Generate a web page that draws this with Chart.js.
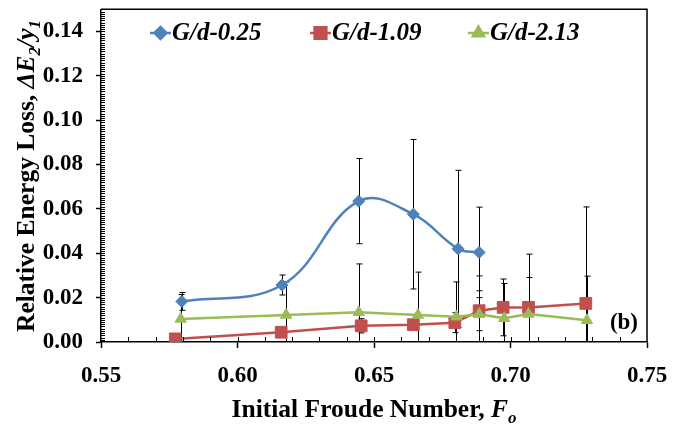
<!DOCTYPE html>
<html>
<head>
<meta charset="utf-8">
<script src="https://cdn.jsdelivr.net/npm/chart.js@4.4.1/dist/chart.umd.min.js"></script>
<style>
  html, body { margin: 0; padding: 0; background: #fff; }
  canvas { display: block; }
</style>
</head>
<body>
<canvas id="chart" width="688" height="426"></canvas>
<script>
// series labels
let seriesLabels = ['G/d-0.25', 'G/d-1.09', 'G/d-2.13'];

// G/d = 0.25
let froude025 = [0.5796, 0.6163, 0.6444, 0.6644, 0.6808, 0.6885];
let loss025   = [0.0183, 0.0257, 0.0635, 0.0576, 0.0420, 0.0404];
let err025    = [0.0040, 0.0045, 0.0192, 0.0337, 0.0354, 0.0204];

// G/d = 1.09
let froude109 = [0.5772, 0.6160, 0.6453, 0.6644, 0.6796, 0.6885, 0.6973, 0.7066, 0.7276];
let loss109   = [0.0014, 0.0044, 0.0073, 0.0078, 0.0087, 0.0141, 0.0156, 0.0156, 0.0174];
let err109    = [0.0010, 0.0010, 0.0032, 0.0020, 0.0045, 0.0090, 0.0128, 0.0240, 0.0435];

// G/d = 2.13
let froude213 = [0.5792, 0.6178, 0.6444, 0.6661, 0.6802, 0.6885, 0.6977, 0.7066, 0.7280];
let loss213   = [0.0104, 0.0122, 0.0134, 0.0122, 0.0114, 0.0125, 0.0107, 0.0126, 0.0098];
let err213    = [0.0110, 0.0149, 0.0218, 0.0193, 0.0157, 0.0173, 0.0157, 0.0165, 0.0199];

let errs = [err025, err109, err213];

// axis ticks
let xTicks = [0.55, 0.60, 0.65, 0.70, 0.75];
let yTicks = [0.00, 0.02, 0.04, 0.06, 0.08, 0.10, 0.12, 0.14];
let xMinorStep = 0.01;
let yMinorStep = 0.001;

const serif = '"Liberation Serif", "Times New Roman", serif';
const blue = '#4F81BD', red = '#C0504D', green = '#9BBB59';

function pts(xs, ys) { return xs.map((x, i) => ({ x: x, y: ys[i] })); }

function drawRich(c, parts, cx, baseY) {
  let total = 0;
  parts.forEach(p => { c.font = p.f; p.w = c.measureText(p.t).width; total += p.w; });
  let x = cx - total / 2;
  c.textAlign = 'left';
  c.textBaseline = 'alphabetic';
  parts.forEach(p => { c.font = p.f; c.fillText(p.t, x, baseY + (p.dy || 0)); x += p.w; });
}

// error bars, drawn under the series
const errorBars = {
  id: 'errorBars',
  beforeDatasetsDraw(chart) {
    let c = chart.ctx, xs = chart.scales.x, ys = chart.scales.y, a = chart.chartArea;
    c.save();
    c.beginPath();
    c.rect(a.left, a.top, a.right - a.left, a.bottom - a.top);
    c.clip();
    c.strokeStyle = '#000';
    c.lineWidth = 1;
    chart.data.datasets.forEach((ds, i) => {
      ds.data.forEach((p, j) => {
        let e = errs[i][j];
        let px = Math.round(xs.getPixelForValue(p.x)) + 0.5;
        let top = ys.getPixelForValue(p.y + e);
        let bot = ys.getPixelForValue(p.y - e);
        c.beginPath();
        c.moveTo(px, top); c.lineTo(px, bot);
        c.moveTo(px - 3, top); c.lineTo(px + 3, top);
        c.moveTo(px - 3, bot); c.lineTo(px + 3, bot);
        c.stroke();
      });
    });
    c.restore();
  }
};

// minor ticks, plot frame, legend, titles
const decor = {
  id: 'decor',
  afterDraw(chart) {
    let c = chart.ctx, xs = chart.scales.x, ys = chart.scales.y, a = chart.chartArea;
    c.save();
    c.strokeStyle = '#000';
    c.lineWidth = 1;
    c.beginPath();
    for (let v = 0.55 + xMinorStep; v < 0.75 - 1e-9; v += xMinorStep) {
      let px = Math.round(xs.getPixelForValue(v)) + 0.5;
      c.moveTo(px, a.bottom); c.lineTo(px, a.bottom - 5);
    }
    for (let v = yMinorStep; v < 0.15 - 1e-9; v += yMinorStep) {
      let py = Math.round(ys.getPixelForValue(v)) + 0.5;
      c.moveTo(a.left, py); c.lineTo(a.left + 4, py);
    }
    c.stroke();
    c.lineWidth = 1.5;
    c.beginPath();
    c.moveTo(a.left, a.top); c.lineTo(a.right, a.top); c.lineTo(a.right, a.bottom);
    c.stroke();

    // legend
    c.fillStyle = '#000';
    let lx = [150, 310, 468], ly = 33;
    chart.data.datasets.forEach((ds, i) => {
      c.strokeStyle = ds.borderColor;
      c.lineWidth = 2.5;
      c.beginPath(); c.moveTo(lx[i], ly); c.lineTo(lx[i] + 21, ly); c.stroke();
      Chart.helpers.drawPoint(c, {
        pointStyle: ds.pointStyle, radius: ds.pointRadius, borderWidth: 1, rotation: 0
      }, lx[i] + 10.5, ly);
      c.fillStyle = ds.backgroundColor;
      c.fill();
      c.fillStyle = '#000';
      c.font = 'italic bold 25px ' + serif;
      c.textAlign = 'left';
      c.textBaseline = 'middle';
      c.fillText(ds.label, lx[i] + 22, ly + 1);
    });

    // panel tag
    c.font = 'bold 23px ' + serif;
    c.textAlign = 'right';
    c.textBaseline = 'middle';
    c.fillText('(b)', 638, 323);

    // axis titles
    let big = 'bold 25.5px ' + serif, bigI = 'italic bold 25.5px ' + serif, sub = 'italic bold 17px ' + serif;
    drawRich(c, [
      { t: 'Initial Froude Number, ', f: big },
      { t: 'F', f: bigI },
      { t: 'o', f: sub, dy: 6 }
    ], 374, 417);
    c.translate(26, 176);
    c.rotate(-Math.PI / 2);
    drawRich(c, [
      { t: 'Relative Energy Loss, ', f: big },
      { t: '\u0394E', f: bigI },
      { t: '2', f: sub, dy: 6 },
      { t: '/y', f: bigI },
      { t: '1', f: sub, dy: 6 }
    ], 0, 8);
    c.restore();
  }
};

let ctx = document.getElementById('chart').getContext('2d');
let lossChart = new Chart(ctx, {
  type: 'scatter',
  data: {
    datasets: [{
      label: seriesLabels[0],
      data: pts(froude025, loss025),
      showLine: true,
      tension: 0.4,
      borderColor: blue,
      backgroundColor: blue,
      borderWidth: 2.5,
      pointStyle: 'rectRot',
      pointRadius: 6,
      pointBorderWidth: 1,
      order: 2
    }, {
      label: seriesLabels[1],
      data: pts(froude109, loss109),
      showLine: true,
      tension: 0,
      borderColor: red,
      backgroundColor: red,
      borderWidth: 2.5,
      pointStyle: 'rect',
      pointRadius: 8.3,
      pointBorderWidth: 1,
      order: 1
    }, {
      label: seriesLabels[2],
      data: pts(froude213, loss213),
      showLine: true,
      tension: 0,
      borderColor: green,
      backgroundColor: green,
      borderWidth: 2.5,
      pointStyle: 'triangle',
      pointRadius: 6.5,
      pointBorderWidth: 1,
      order: 0
    }]
  },
  options: {
    responsive: false,
    animation: false,
    layout: { padding: { left: 0, right: 41, top: 7, bottom: 0 } },
    plugins: { legend: { display: false }, tooltip: { enabled: false } },
    scales: {
      x: {
        type: 'linear', min: 0.55, max: 0.75,
        afterBuildTicks: s => { s.ticks = xTicks.map(v => ({ value: v })); },
        afterFit: s => { s.height = 84; s.paddingLeft = 0; s.paddingRight = 0; },
        ticks: {
          callback: v => v.toFixed(2), color: '#000', padding: 14, maxRotation: 0,
          font: { family: serif, size: 23, weight: 'bold' }
        },
        grid: { drawOnChartArea: false, drawTicks: true, tickLength: 6, color: '#000', tickWidth: 1.5 },
        border: { color: '#000', width: 1.5 }
      },
      y: {
        min: 0, max: 0.15,
        afterBuildTicks: s => { s.ticks = yTicks.map(v => ({ value: v })); },
        afterFit: s => { s.width = 101; s.paddingTop = 0; s.paddingBottom = 0; },
        ticks: {
          callback: v => v.toFixed(2), color: '#000', padding: 13,
          font: { family: serif, size: 23, weight: 'bold' }
        },
        grid: { drawOnChartArea: false, drawTicks: true, tickLength: 5, color: '#000', tickWidth: 1.5 },
        border: { color: '#000', width: 1.5 }
      }
    }
  },
  plugins: [errorBars, decor]
});
</script>
</body>
</html>
